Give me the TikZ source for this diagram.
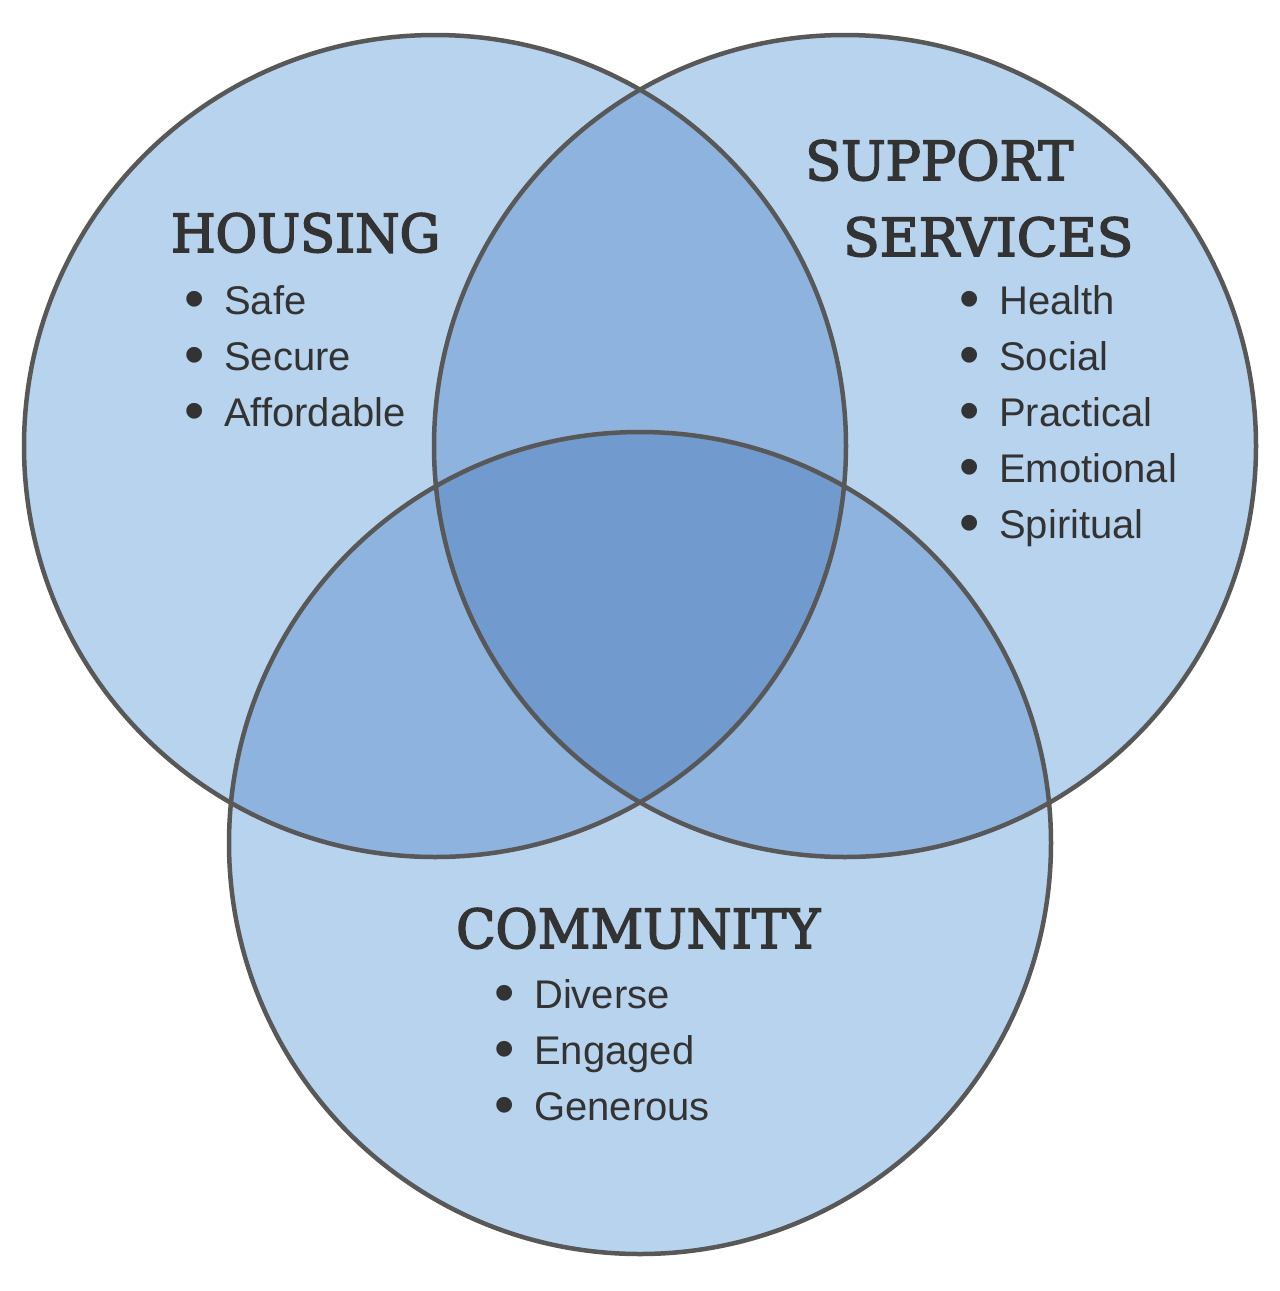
\documentclass[tikz,border=0pt]{standalone}
\usepackage{fontspec}
\usepackage{graphicx}
\setmainfont{Liberation Sans}
\newfontfamily\slabfont{DejaVu Serif}[FakeBold=3]
\definecolor{lightfill}{HTML}{B8D3EE}
\definecolor{midfill}{HTML}{8DB3DE}
\definecolor{darkfill}{HTML}{719ACE}
\definecolor{ringcol}{HTML}{585858}
\definecolor{textcol}{HTML}{333333}
\tikzset{
  ring/.style={draw=ringcol, line width=4.5pt},
  heading/.style={anchor=base west, inner sep=0pt, text=textcol, font=\slabfont},
  bulletitem/.style={anchor=base west, inner sep=0pt, text=textcol, font=\fontsize{40}{48}\selectfont},
}
\newcommand{\bitem}[1]{\llap{\raisebox{-4pt}{\scalebox{1.45}{\textbullet}}\hspace{19pt}}#1}
\begin{document}
\begin{tikzpicture}[x=1pt,y=-1pt]
\useasboundingbox (0,0) rectangle (1280,1291);
\fill[white] (0,0) rectangle (1280,1291);
\coordinate (cH) at (435,446);
\coordinate (cS) at (845,446);
\coordinate (cC) at (640,843);
% base fills
\fill[lightfill] (cH) circle[radius=411pt];
\fill[lightfill] (cS) circle[radius=411pt];
\fill[lightfill] (cC) circle[radius=411pt];
% pairwise overlaps
\begin{scope}
  \clip (cH) circle[radius=411pt];
  \fill[midfill] (cS) circle[radius=411pt];
  \fill[midfill] (cC) circle[radius=411pt];
\end{scope}
\begin{scope}
  \clip (cS) circle[radius=411pt];
  \fill[midfill] (cC) circle[radius=411pt];
\end{scope}
% triple overlap
\begin{scope}
  \clip (cH) circle[radius=411pt];
  \clip (cS) circle[radius=411pt];
  \fill[darkfill] (cC) circle[radius=411pt];
\end{scope}
% outlines
\draw[ring] (cH) circle[radius=411pt];
\draw[ring] (cS) circle[radius=411pt];
\draw[ring] (cC) circle[radius=411pt];
% headings
\node[heading] (housing) at (171,252) {\resizebox{269pt}{39pt}{HOUSING}};
\node[heading] (support) at (805,180) {\resizebox{268pt}{40pt}{SUPPORT}};
\node[heading] (services) at (843,256) {\resizebox{290pt}{39pt}{SERVICES}};
\node[heading] (community) at (456,948) {\resizebox{364pt}{40pt}{COMMUNITY}};
% housing list
\node[bulletitem] (h1) at (224,314) {\bitem{Safe}};
\node[bulletitem] (h2) at (224,370) {\bitem{Secure}};
\node[bulletitem] (h3) at (224,426) {\bitem{Affordable}};
% support list
\node[bulletitem] (s1) at (999,314) {\bitem{Health}};
\node[bulletitem] (s2) at (999,370) {\bitem{Social}};
\node[bulletitem] (s3) at (999,426) {\bitem{Practical}};
\node[bulletitem] (s4) at (999,482) {\bitem{Emotional}};
\node[bulletitem] (s5) at (999,538) {\bitem{Spiritual}};
% community list
\node[bulletitem] (c1) at (534,1008) {\bitem{Diverse}};
\node[bulletitem] (c2) at (534,1064) {\bitem{Engaged}};
\node[bulletitem] (c3) at (534,1120) {\bitem{Generous}};
\end{tikzpicture}
\end{document}
